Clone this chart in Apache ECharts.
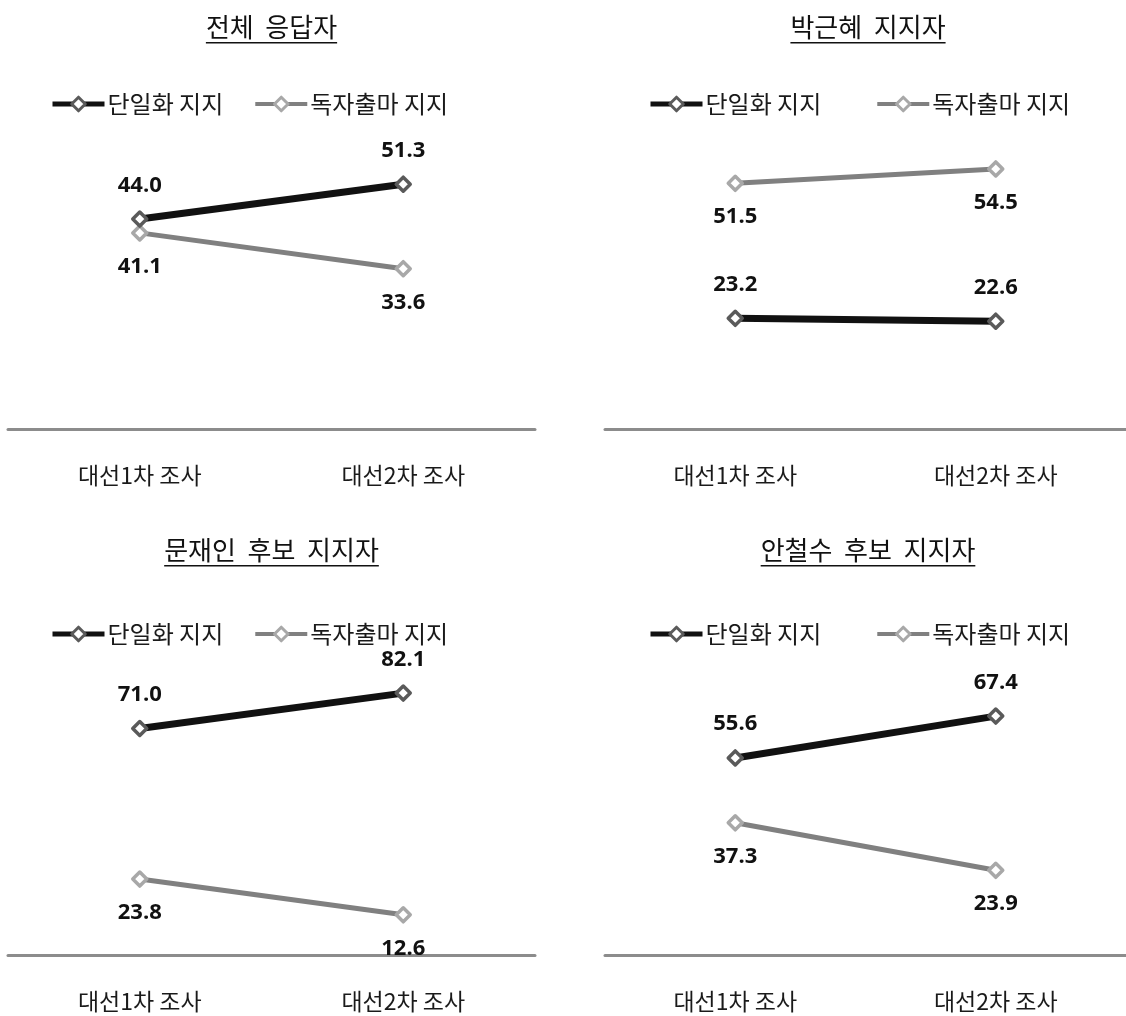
<!DOCTYPE html>
<html>
<head>
<meta charset="utf-8">
<script src="https://cdn.jsdelivr.net/npm/echarts@6/dist/echarts.min.js"></script>
<style>
  html, body { margin: 0; padding: 0; background: #ffffff; }
  #chart { width: 1126px; height: 1016px; }
</style>
</head>
<body>
<div id="chart"></div>
<script>
// Survey waves on the x axis
const categories = ['대선1차 조사', '대선2차 조사'];

// Panel titles
const panelTitles = ['전체  응답자', '박근혜  지지자', '문재인  후보  지지자', '안철수  후보  지지자'];

// Legend / series names
const seriesNames = ['단일화 지지', '독자출마 지지'];

// Values (%) per panel: support for unification vs. independent run
const allUnify = [44.0, 51.3];
const allSolo = [41.1, 33.6];
const parkUnify = [23.2, 22.6];
const parkSolo = [51.5, 54.5];
const moonUnify = [71.0, 82.1];
const moonSolo = [23.8, 12.6];
const ahnUnify = [55.6, 67.4];
const ahnSolo = [37.3, 23.9];

// Value axis maximum for each panel
const axisMax = [70, 70, 100, 90];

const panelData = [
  [allUnify, allSolo],
  [parkUnify, parkSolo],
  [moonUnify, moonSolo],
  [ahnUnify, ahnSolo]
];

const KR = '"Noto Sans CJK KR", "Noto Sans", sans-serif';
const NUM = '"Open Sans", Lato, sans-serif';

// Panel frames
const panels = [
  { left: 8, top: 95, width: 527, height: 334, legendLeft: 50, legendTop: 92, legendGap: 30, titleY: 14 },
  { left: 605, top: 95, width: 526, height: 334, legendLeft: 648, legendTop: 92, legendGap: 54, titleY: 14 },
  { left: 8, top: 636, width: 527, height: 319, legendLeft: 50, legendTop: 622, legendGap: 30, titleY: 537 },
  { left: 605, top: 636, width: 526, height: 319, legendLeft: 648, legendTop: 622, legendGap: 54, titleY: 537 }
];

const lineStyles = [
  { color: '#111111', width: 7, marker: '#5a5a5a', labelPos: 'top' },
  { color: '#808080', width: 5, marker: '#a8a8a8', labelPos: 'bottom' }
];

const TITLE_SIZE = 26;
const measureCtx = document.createElement('canvas').getContext('2d');
measureCtx.font = TITLE_SIZE + 'px ' + KR;

const grid = [], xAxis = [], yAxis = [], series = [], legend = [], graphic = [];

panels.forEach((p, i) => {
  grid.push({ left: p.left, top: p.top, width: p.width, height: p.height, containLabel: false });
  xAxis.push({
    type: 'category', gridIndex: i, data: categories, boundaryGap: true,
    axisLine: { show: true, lineStyle: { color: '#8c8c8c', width: 3 } },
    axisTick: { show: false },
    splitLine: { show: false },
    axisLabel: { margin: 35, color: '#1a1a1a', fontSize: 23, fontFamily: KR }
  });
  yAxis.push({ type: 'value', gridIndex: i, min: 0, max: axisMax[i], show: false, splitLine: { show: false } });

  panelData[i].forEach((vals, k) => {
    const st = lineStyles[k];
    series.push({
      type: 'line', name: seriesNames[k], xAxisIndex: i, yAxisIndex: i,
      data: vals,
      symbol: 'diamond', symbolSize: 14,
      lineStyle: { color: st.color, width: st.width },
      itemStyle: { color: '#ffffff', borderColor: st.marker, borderWidth: 3.5, borderJoin: 'round' },
      label: {
        show: true, position: st.labelPos, distance: 14,
        formatter: (d) => d.value.toFixed(1),
        color: '#111111', fontSize: 22, fontWeight: 'bold', fontFamily: NUM
      },
      emphasis: { disabled: true },
      animation: false,
      z: k === 0 ? 3 : 2
    });
  });

  legend.push({
    data: seriesNames.map((n, k) => ({
      name: n,
      lineStyle: { width: k === 0 ? 5 : 4, color: lineStyles[k].color },
      itemStyle: { color: '#ffffff', borderColor: lineStyles[k].marker, borderWidth: 3 }
    })),
    left: p.legendLeft, top: p.legendTop, padding: 0,
    itemWidth: 52, itemHeight: 17, itemGap: p.legendGap,
    textStyle: { color: '#1a1a1a', fontSize: 24, fontFamily: KR, padding: [0, 0, 0, -2] },
    selectedMode: false
  });

  // Underlined panel title
  const cx = p.left + p.width / 2;
  const tw = measureCtx.measureText(panelTitles[i]).width;
  graphic.push({
    type: 'text', left: cx - tw / 2, top: p.titleY,
    style: { text: panelTitles[i], fill: '#111111', font: TITLE_SIZE + 'px ' + KR }
  });
  graphic.push({
    type: 'rect', left: cx - tw / 2, top: p.titleY + 28,
    shape: { width: tw, height: 1.5 },
    style: { fill: '#111111' }
  });
});

const chart = echarts.init(document.getElementById('chart'), null, { renderer: 'canvas' });
chart.setOption({
  backgroundColor: '#ffffff',
  animation: false,
  grid, xAxis, yAxis, series, legend, graphic
});
</script>
</body>
</html>
